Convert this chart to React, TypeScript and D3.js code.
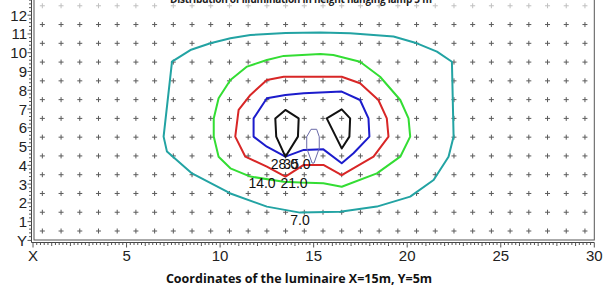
import React from "react";
import * as d3 from "d3";

type Pt = [number, number];

// values (metres)
const xTickLabels = ["X", "5", "10", "15", "20", "25", "30"];
const xTickValues = [0, 5, 10, 15, 20, 25, 30];
const yTickLabels = ["Y", "1", "2", "3", "4", "5", "6", "7", "8", "9", "10", "11", "12"];
const yTickValues = [0, 1, 2, 3, 4, 5, 6, 7, 8, 9, 10, 11, 12];

const gridX = d3.range(0.5, 30, 1);
const gridY = d3.range(0.5, 13, 1);

const contour7: Pt[] = [
  [7.43, 9.52], [8.41, 10.14], [9.48, 10.5], [10.55, 10.77], [11.62, 10.94],
  [13.5, 11.05], [15.36, 11.07], [16.95, 11.03], [19.27, 10.86], [20.52, 10.5],
  [21.59, 10.06], [22.39, 9.52], [22.48, 5.53], [22.21, 4.46], [21.41, 3.22],
  [20.16, 2.33], [18.38, 1.8], [16.41, 1.53], [14.27, 1.48], [12.5, 1.8],
  [10.55, 2.5], [8.5, 3.57], [7.16, 4.73], [6.98, 5.53],
];
const contour14: Pt[] = [
  [9.66, 6.5], [9.92, 7.57], [10.55, 8.55], [11.44, 9.26], [12.5, 9.61],
  [13.4, 9.83], [15.36, 9.93], [16.05, 9.88], [17.48, 9.52], [18.55, 8.72],
  [19.63, 7.48], [20.07, 6.5], [20.16, 5.53], [19.63, 4.46], [18.38, 3.57],
  [16.5, 2.86], [15.52, 3.04], [14.27, 3.08], [13.4, 3.13], [11.62, 3.4],
  [10.55, 3.84], [9.92, 4.46], [9.66, 5.53],
];
const contour21: Pt[] = [
  [10.99, 6.95], [11.62, 7.75], [12.5, 8.55], [13.4, 8.72], [15.36, 8.72],
  [16.5, 8.72], [17.48, 8.37], [18.46, 7.48], [18.91, 6.5], [19.0, 5.53],
  [18.2, 4.46], [16.5, 3.48], [15.52, 4.02], [14.47, 4.02], [13.49, 3.4],
  [12.5, 3.93], [11.35, 4.46], [10.81, 5.53],
];
const contour28: Pt[] = [
  [11.79, 6.5], [12.5, 7.57], [13.49, 7.75], [14.47, 7.84], [16.5, 7.93],
  [17.48, 7.48], [17.93, 6.5], [17.98, 5.53], [17.13, 4.64], [16.5, 4.11],
  [15.52, 4.85], [14.47, 4.82], [13.49, 4.46], [12.5, 4.99], [11.79, 5.53],
];
const contour35a: Pt[] = [
  [13.49, 6.95], [14.2, 6.5], [14.16, 5.53], [13.49, 4.46], [13.0, 5.53], [12.95, 6.5],
];
const contour35b: Pt[] = [
  [16.5, 6.98], [16.95, 6.5], [16.91, 5.53], [16.5, 4.9], [15.7, 6.5],
];
const contour42: Pt[] = [
  [14.86, 5.92], [15.16, 5.92], [15.3, 5.52], [15.3, 4.91], [15.02, 4.12],
  [14.92, 4.12], [14.63, 4.91], [14.63, 5.52],
];

const contours = [
  { pts: contour7, color: "#22a3a3", w: 2 },
  { pts: contour14, color: "#33dd33", w: 2 },
  { pts: contour21, color: "#d82626", w: 2 },
  { pts: contour28, color: "#1c1ccc", w: 2 },
  { pts: contour35a, color: "#111111", w: 2 },
  { pts: contour35b, color: "#111111", w: 2 },
  { pts: contour42, color: "#6a6aa8", w: 1 },
];

const levelLabels = ["7.0", "14.0", "21.0", "28.0", "35.0"];
const labelPos: Pt[] = [[14.27, 1.09], [12.24, 3.06], [13.95, 3.06], [13.44, 4.07], [14.11, 4.07]];

export default function App() {
  const width = 605;
  const height = 287;
  const x = d3.scaleLinear().domain([0, 30]).range([33, 594.3]);
  const y = d3.scaleLinear().domain([0, 12]).range([240.4, 15.16]);
  const line = d3
    .line<Pt>()
    .x((d) => x(d[0]))
    .y((d) => y(d[1]))
    .curve(d3.curveLinearClosed);

  const xMinor = d3.range(0, 30.01, 0.2);
  const yMinor = d3.range(0, 13.01, 0.2);
  const axisLeft = 31.5;
  const axisBottom = 242.5;
  const font = "'Liberation Sans', Arial, sans-serif";

  return (
    <svg
      width={width}
      height={height}
      style={{ position: "absolute", left: 0, top: 0, background: "#fff" }}
    >
      {/* title, cut off by the top edge as in the source */}
      <text
        x={301}
        y={3}
        textAnchor="middle"
        fontFamily="'Open Sans', sans-serif"
        fontWeight="bold"
        fontSize={10}
        textLength={262}
        fill="#222"
      >
        Distribution of illumination in height hanging lamp 5 m
      </text>

      {/* grid points */}
      <g stroke="#333" strokeWidth={1}>
        {gridY.map((gy) =>
          gridX.map((gx) => (
            <path
              key={`${gx}-${gy}`}
              d={`M${x(gx) - 2.5},${y(gy)}h5M${x(gx)},${y(gy) - 2.5}v5`}
              opacity={gy > 12 ? 0.3 : 0.8}
            />
          ))
        )}
      </g>

      {/* frame */}
      <rect x={34} y={-10} width={x(30) - 34} height={250} fill="none" stroke="#555" strokeWidth={1} />
      <line x1={axisLeft} x2={axisLeft} y1={-10} y2={axisBottom} stroke="#444" />
      <line x1={axisLeft} x2={x(30)} y1={axisBottom} y2={axisBottom} stroke="#444" />

      {/* minor / major ticks */}
      <g stroke="#555" strokeWidth={1}>
        {xMinor.map((v, i) => {
          const len = i % 25 === 0 ? 5 : i % 5 === 0 ? 3.5 : 2.5;
          return <line key={i} x1={x(v)} x2={x(v)} y1={axisBottom} y2={axisBottom + len} />;
        })}
        {yMinor.map((v, i) => {
          const len = i % 5 === 0 ? 4 : 2.5;
          return <line key={i} x1={axisLeft} x2={axisLeft - len} y1={y(v)} y2={y(v)} />;
        })}
      </g>

      {xTickValues.map((v, i) => (
        <text key={v} x={x(v)} y={261} textAnchor="middle" fontFamily={font} fontSize={15} fill="#222">
          {xTickLabels[i]}
        </text>
      ))}
      {yTickValues.map((v, i) => (
        <text key={v} x={27} y={y(v) + 5.5} textAnchor="end" fontFamily={font} fontSize={15} fill="#222">
          {yTickLabels[i]}
        </text>
      ))}

      {/* isolines */}
      {contours.map((c, i) => (
        <path key={i} d={line(c.pts) ?? ""} fill="none" stroke={c.color} strokeWidth={c.w} strokeLinejoin="round" />
      ))}

      {levelLabels.map((t, i) => (
        <text
          key={t}
          x={x(labelPos[i][0])}
          y={y(labelPos[i][1]) + 5}
          textAnchor="middle"
          fontFamily={font}
          fontSize={14}
          fill="#111"
        >
          {t}
        </text>
      ))}

      <text
        x={299}
        y={283}
        textAnchor="middle"
        fontFamily="'Open Sans', sans-serif"
        fontWeight="bold"
        fontSize={12.5}
        fill="#111"
      >
        Coordinates of the luminaire X=15m, Y=5m
      </text>
    </svg>
  );
}
